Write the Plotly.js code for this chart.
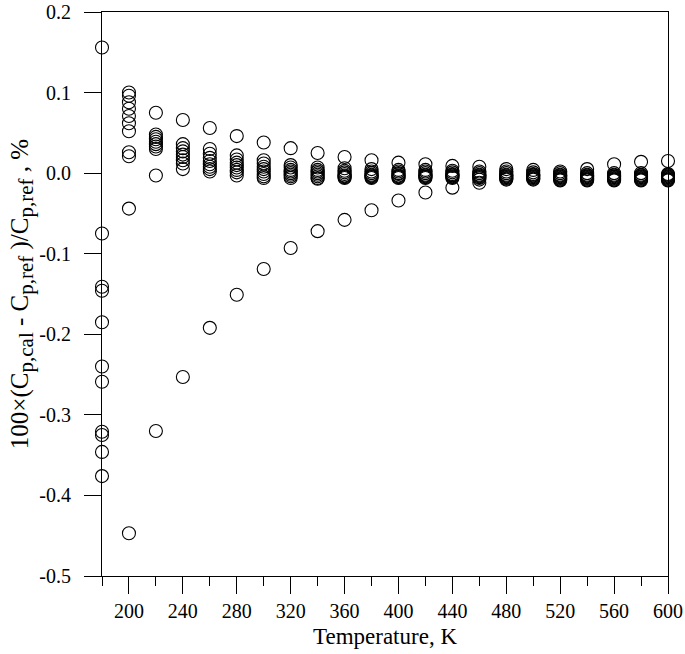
<!DOCTYPE html>
<html>
<head>
<meta charset="utf-8">
<script src="https://cdn.plot.ly/plotly-3.0.1.min.js"></script>
<style>html,body{margin:0;padding:0;background:#fff;}#chart{width:685px;height:654px;}</style>
</head>
<body>
<div id="chart"></div>
<script>
// Temperatures (K)
const temperatures = [180,200,220,240,260,280,300,320,340,360,380,400,420,440,460,480,500,520,540,560,580,600];
// Deviations (%) at each temperature
const dev180 = [0.156, -0.075, -0.141, -0.146, -0.185, -0.240, -0.259, -0.321, -0.325, -0.346, -0.376];
const dev200 = [0.100, 0.096, 0.088, 0.080, 0.071, 0.062, 0.052, 0.026, 0.021, -0.044, -0.447];
const dev220 = [0.075, 0.048, 0.045, 0.042, 0.039, 0.036, 0.033, 0.030, -0.003, -0.320];
const dev240 = [0.066, 0.036, 0.031, 0.027, 0.023, 0.020, 0.016, 0.012, 0.005, -0.253];
const dev260 = [0.056, 0.030, 0.024, 0.019, 0.015, 0.011, 0.008, 0.005, 0.002, -0.192];
const dev280 = [0.046, 0.022, 0.017, 0.013, 0.010, 0.007, 0.004, 0.001, -0.003, -0.151];
const dev300 = [0.038, 0.016, 0.012, 0.008, 0.005, 0.002, -0.001, -0.004, -0.006, -0.119];
const dev320 = [0.031, 0.010, 0.007, 0.004, 0.002, 0.000, -0.002, -0.004, -0.006, -0.093];
const dev340 = [0.025, 0.007, 0.004, 0.002, 0.000, -0.002, -0.004, -0.006, -0.007, -0.072];
const dev360 = [0.020, 0.006, 0.003, 0.001, -0.001, -0.003, -0.004, -0.005, -0.006, -0.058];
const dev380 = [0.016, 0.005, 0.002, 0.000, -0.002, -0.003, -0.004, -0.005, -0.006, -0.046];
const dev400 = [0.013, 0.004, 0.002, 0.000, -0.001, -0.003, -0.004, -0.005, -0.006, -0.034];
const dev420 = [0.011, 0.004, 0.002, 0.000, -0.002, -0.003, -0.004, -0.005, -0.006, -0.024];
const dev440 = [0.009, 0.003, 0.001, -0.001, -0.002, -0.003, -0.004, -0.005, -0.006, -0.018];
const dev460 = [0.008, 0.002, 0.000, -0.002, -0.003, -0.004, -0.005, -0.006, -0.008, -0.012];
const dev480 = [0.005, 0.002, 0.000, -0.002, -0.003, -0.004, -0.005, -0.006, -0.007, -0.008];
const dev500 = [0.004, 0.001, -0.001, -0.002, -0.003, -0.004, -0.005, -0.006, -0.007, -0.008];
const dev520 = [0.002, 0.000, -0.002, -0.003, -0.004, -0.005, -0.006, -0.007, -0.008, -0.009];
const dev540 = [0.005, 0.000, -0.002, -0.003, -0.004, -0.005, -0.006, -0.007, -0.008, -0.009];
const dev560 = [0.011, 0.000, -0.002, -0.003, -0.004, -0.005, -0.006, -0.007, -0.008, -0.009];
const dev580 = [0.014, 0.000, -0.002, -0.003, -0.004, -0.005, -0.006, -0.007, -0.008, -0.009];
const dev600 = [0.015, -0.001, -0.002, -0.003, -0.004, -0.005, -0.006, -0.007, -0.008, -0.009];
const deviations = [dev180,dev200,dev220,dev240,dev260,dev280,dev300,dev320,dev340,dev360,dev380,dev400,dev420,dev440,dev460,dev480,dev500,dev520,dev540,dev560,dev580,dev600];

// Tick labels
const xTickVals = [200,240,280,320,360,400,440,480,520,560,600];
const yTickVals = [0.2,0.1,0.0,-0.1,-0.2,-0.3,-0.4,-0.5];
const yTickText = yTickVals.map(v => v.toFixed(1));

const xs = [], ys = [];
temperatures.forEach((t, i) => {
  deviations[i].forEach(d => { xs.push(t); ys.push(d); });
});

const fam = '"Liberation Serif", "Times New Roman", serif';
const font = {family: fam, color: '#000'};
const sub = s => '<sub><span style="font-size:21px">' + s + '</span></sub>';

const trace = {
  x: xs, y: ys, type: 'scatter', mode: 'markers',
  cliponaxis: false,
  marker: {symbol: 'circle-open', size: 13, color: '#000', line: {width: 1.1, color: '#000'}},
  hoverinfo: 'x+y'
};

const layout = {
  width: 685, height: 654,
  margin: {l: 102, r: 17, t: 12, b: 78},
  paper_bgcolor: '#fff', plot_bgcolor: '#fff',
  showlegend: false,
  font: Object.assign({size: 20}, font),
  xaxis: {
    range: [180, 600],
    tickvals: xTickVals,
    ticks: 'outside', ticklen: 17, tickwidth: 1, tickcolor: '#000',
    minor: {dtick: 20, tick0: 180, ticks: 'outside', ticklen: 9, tickwidth: 1, tickcolor: '#000', showgrid: false},
    showline: true, linecolor: '#000', linewidth: 1, mirror: true,
    showgrid: false, zeroline: false,
    tickfont: Object.assign({size: 20}, font),
    ticklabelstandoff: 0,
    title: {text: 'Temperature, K', font: Object.assign({size: 23}, font), standoff: 6}
  },
  yaxis: {
    range: [-0.5, 0.2],
    tickvals: yTickVals, ticktext: yTickText,
    ticks: 'outside', ticklen: 17, tickwidth: 1, tickcolor: '#000',
    showline: true, linecolor: '#000', linewidth: 1, mirror: true,
    showgrid: false, zeroline: false,
    tickfont: Object.assign({size: 20}, font),
    ticklabelstandoff: 9,
    title: {text: '100×(C' + sub('p,cal') + ' - C' + sub('p,ref') + ' )/C' + sub('p,ref') + ' , %', font: Object.assign({size: 25}, font), standoff: 3}
  }
};

Plotly.newPlot('chart', [trace], layout, {displayModeBar: false, staticPlot: true});
</script>
</body>
</html>
